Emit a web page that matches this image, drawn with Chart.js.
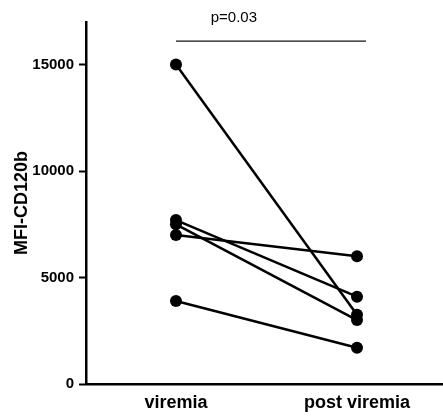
<!DOCTYPE html>
<html>
<head>
<meta charset="utf-8">
<script src="https://cdn.jsdelivr.net/npm/chart.js@4/dist/chart.umd.min.js"></script>
<style>
html,body{margin:0;padding:0;background:#fff;}
#wrap{width:443px;height:417px;position:relative;}
</style>
</head>
<body>
<div id="wrap"><canvas id="c" width="443" height="417"></canvas></div>
<script>
const categories = ['viremia', 'post viremia'];
const viremia = [15000, 7700, 7500, 7000, 3900];
const postViremia = [3250, 4100, 3000, 6000, 1700];
const yTicks = [0, 5000, 10000, 15000];
const yTitle = 'MFI-CD120b';
const pLabel = 'p=0.03';

Chart.defaults.font.family = '"Liberation Sans", Arial, Helvetica, sans-serif';
Chart.defaults.color = '#000';

const datasets = viremia.map((v, i) => ({
  data: [{x: 0, y: v}, {x: 1, y: postViremia[i]}],
  borderColor: '#000',
  backgroundColor: '#000',
  borderWidth: 2.5,
  pointRadius: 6,
  pointHoverRadius: 6,
  pointBackgroundColor: '#000',
  pointBorderColor: '#000',
  pointBorderWidth: 0,
  showLine: true,
  tension: 0
}));

const sigPlugin = {
  id: 'sig',
  afterDraw(chart) {
    const {ctx, scales: {x, y}} = chart;
    ctx.save();
    const yb = y.getPixelForValue(16100);
    ctx.strokeStyle = '#111';
    ctx.lineWidth = 1.3;
    ctx.beginPath();
    ctx.moveTo(x.getPixelForValue(0), yb);
    ctx.lineTo(x.getPixelForValue(1.05), yb);
    ctx.stroke();
    ctx.fillStyle = '#000';
    ctx.font = '15px "Liberation Sans", Arial, sans-serif';
    ctx.textAlign = 'center';
    ctx.textBaseline = 'middle';
    ctx.fillText(pLabel, x.getPixelForValue(0.32), y.getPixelForValue(17200));
    ctx.restore();
  }
};

new Chart(document.getElementById('c'), {
  type: 'scatter',
  data: {datasets},
  options: {
    responsive: false,
    animation: false,
    events: [],
    layout: {autoPadding: false, padding: {top: 22, left: 0, right: 0, bottom: 0}},
    plugins: {legend: {display: false}, tooltip: {enabled: false}},
    scales: {
      x: {
        type: 'linear',
        min: -0.497,
        max: 1.475,
        afterBuildTicks(s) { s.ticks = categories.map((c, i) => ({value: i})); },
        afterFit(s) { s.height = 33; s.paddingRight = 0; s.paddingLeft = 0; },
        ticks: {
          callback: (v) => categories[v],
          font: {size: 18, weight: 'bold'},
          padding: 8,
          maxRotation: 0,
          autoSkip: false
        },
        grid: {display: false, drawTicks: false},
        border: {display: true, color: '#000', width: 2.5}
      },
      y: {
        type: 'linear',
        min: 0,
        max: 17000,
        afterBuildTicks(s) { s.ticks = yTicks.map(v => ({value: v})); },
        afterFit(s) { s.width = 86; },
        ticks: {
          font: {size: 15, weight: 'bold'},
          padding: 5,
          callback: (v) => String(v)
        },
        grid: {display: true, drawOnChartArea: false, drawTicks: true, tickLength: 7, tickColor: '#000', tickWidth: 2},
        border: {display: true, color: '#000', width: 2.5},
        title: {
          display: true,
          text: yTitle,
          font: {size: 18, weight: 'bold'},
          padding: {top: 11, bottom: 0}
        }
      }
    }
  },
  plugins: [sigPlugin]
});
</script>
</body>
</html>
